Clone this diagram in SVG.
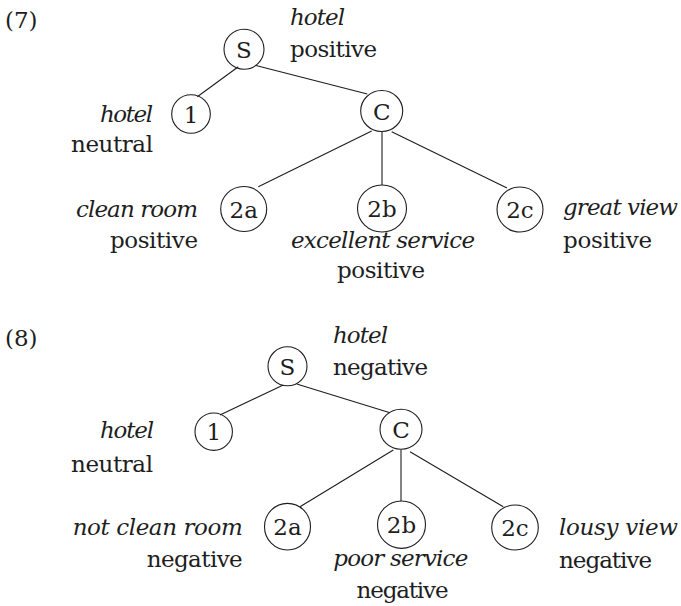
<svg xmlns="http://www.w3.org/2000/svg" width="681" height="606" viewBox="0 0 681 606">
<style>
.bg{fill:#ffffff}
.nd{fill:none;stroke:#1e1e1e;stroke-width:1.1}
.ed line{stroke:#1e1e1e;stroke-width:1.1}
.tx{font-family:'DejaVu Serif','Liberation Serif',serif;font-size:23px;fill:#1e1e1e}
.it{font-style:italic}
.c{text-anchor:middle}
.e{text-anchor:end}
</style>
<rect class="bg" x="0" y="0" width="681" height="606"/>
<g class="tx">
<text x="5" y="28">(7)</text>
<text x="5" y="346">(8)</text>
</g>
<g id="edges" class="ed">
<line x1="238.3" y1="66.7" x2="197.3" y2="96.7"/>
<line x1="255" y1="65.3" x2="367.3" y2="94"/>
<line x1="371.7" y1="131" x2="258.3" y2="186.7"/>
<line x1="382" y1="131.5" x2="382" y2="185"/>
<line x1="391.7" y1="131.7" x2="507" y2="188"/>
<line x1="283.3" y1="385" x2="220" y2="415"/>
<line x1="296.7" y1="384" x2="390" y2="412.7"/>
<line x1="393.3" y1="450" x2="300" y2="506.7"/>
<line x1="401" y1="449.5" x2="401" y2="501"/>
<line x1="410" y1="451.7" x2="503.3" y2="506.7"/>
</g>
<g class="tx">
<g id="t7-S">
<circle class="nd" cx="244" cy="49.3" r="20"/>
<text class="c" x="244" y="57.8">S</text>
<text class="it" x="290" y="25" textLength="55">hotel</text>
<text x="290" y="57" textLength="87">positive</text>
</g>
<g id="t7-1">
<circle class="nd" cx="191" cy="114" r="19.3"/>
<text class="c" x="191" y="122.5">1</text>
<text class="it e" x="153" y="121.7" textLength="53">hotel</text>
<text class="e" x="153" y="151.7" textLength="82">neutral</text>
</g>
<g id="t7-C">
<ellipse class="nd" cx="381.7" cy="111" rx="21" ry="20.5"/>
<text class="c" x="381.7" y="119.5">C</text>
</g>
<g id="t7-2a">
<ellipse class="nd" cx="243.7" cy="209" rx="23" ry="22.5"/>
<text class="c" x="243.7" y="217.5">2a</text>
<text class="it e" x="198" y="216.7" textLength="122">clean room</text>
<text class="e" x="198" y="248" textLength="88">positive</text>
</g>
<g id="t7-2b">
<ellipse class="nd" cx="382" cy="208.5" rx="24.5" ry="23.5"/>
<text class="c" x="382" y="217">2b</text>
<text class="it c" x="383" y="248" textLength="184">excellent service</text>
<text class="c" x="381" y="278" textLength="88">positive</text>
</g>
<g id="t7-2c">
<ellipse class="nd" cx="520" cy="209.5" rx="23" ry="22.5"/>
<text class="c" x="520" y="218">2c</text>
<text class="it" x="563" y="215" textLength="115">great view</text>
<text x="563" y="248" textLength="89">positive</text>
</g>
<g id="t8-S">
<circle class="nd" cx="287.5" cy="366.3" r="19.5"/>
<text class="c" x="287.5" y="374.8">S</text>
<text class="it" x="333" y="343" textLength="55">hotel</text>
<text x="333" y="375" textLength="95">negative</text>
</g>
<g id="t8-1">
<circle class="nd" cx="213.7" cy="431.7" r="18.7"/>
<text class="c" x="213.7" y="440.2">1</text>
<text class="it e" x="154" y="438" textLength="54">hotel</text>
<text class="e" x="153" y="471.7" textLength="82">neutral</text>
</g>
<g id="t8-C">
<ellipse class="nd" cx="401" cy="429.3" rx="21" ry="20"/>
<text class="c" x="401" y="437.8">C</text>
</g>
<g id="t8-2a">
<ellipse class="nd" cx="287.5" cy="526.7" rx="23" ry="23.3"/>
<text class="c" x="287.5" y="535.2">2a</text>
<text class="it e" x="242.7" y="535" textLength="170">not clean room</text>
<text class="e" x="242.7" y="567" textLength="96">negative</text>
</g>
<g id="t8-2b">
<ellipse class="nd" cx="401.5" cy="524.7" rx="24" ry="23.7"/>
<text class="c" x="401.5" y="533.2">2b</text>
<text class="it c" x="400.8" y="566" textLength="135">poor service</text>
<text class="c" x="402.5" y="598" textLength="92">negative</text>
</g>
<g id="t8-2c">
<ellipse class="nd" cx="515" cy="527.5" rx="23.3" ry="22.5"/>
<text class="c" x="515" y="536">2c</text>
<text class="it" x="559" y="535" textLength="119">lousy view</text>
<text x="559" y="567.7" textLength="93">negative</text>
</g>
</g>
</svg>
